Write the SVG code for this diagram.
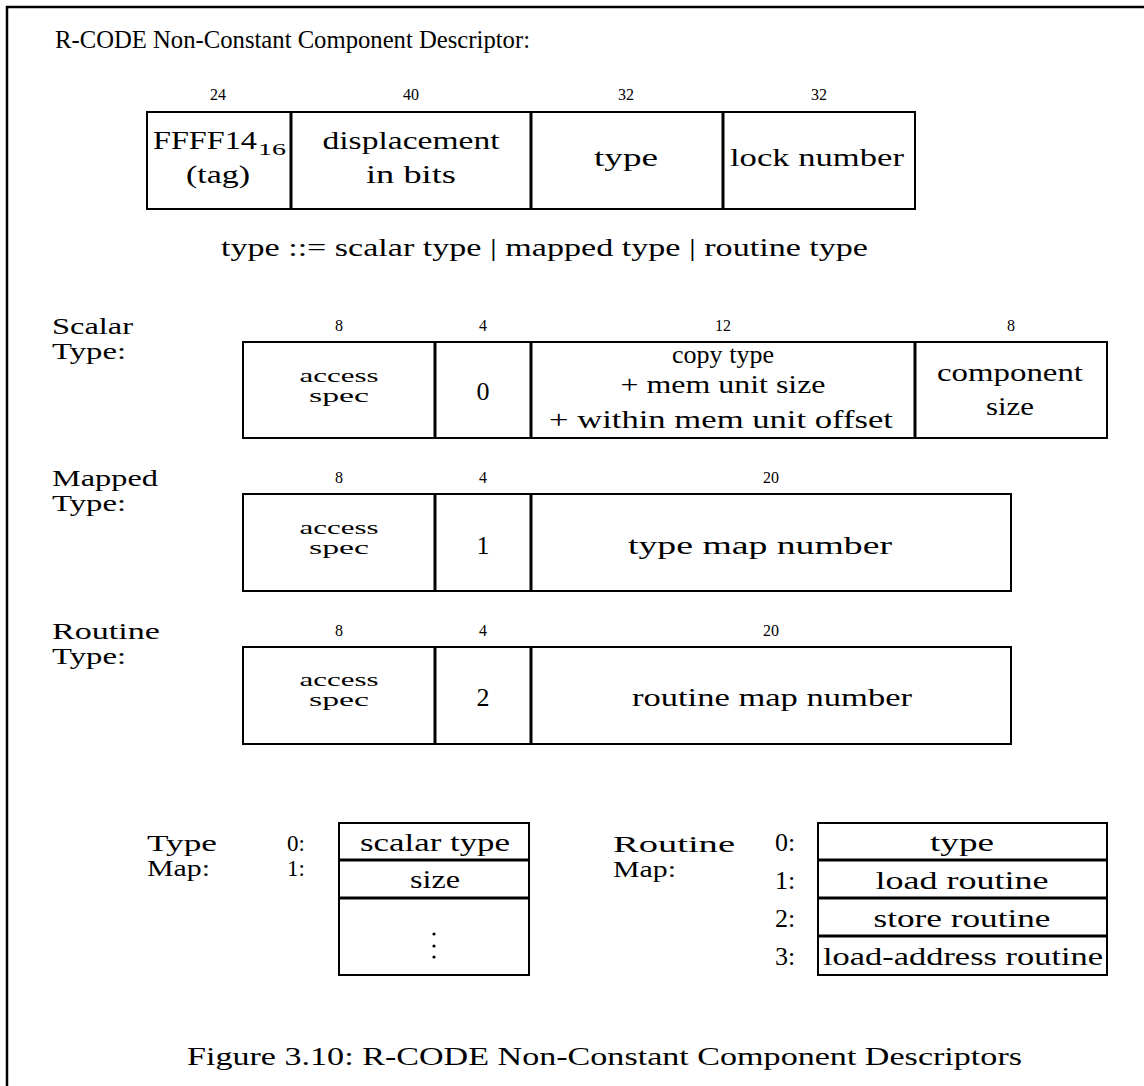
<svg xmlns="http://www.w3.org/2000/svg" width="1144" height="1086" viewBox="0 0 1144 1086">
<style>
text{font-family:"Liberation Serif","DejaVu Serif",serif;fill:#000}
.t{font-size:26px}
.l{font-size:23px}
.m{font-size:19px}
.n{font-size:16px;text-anchor:middle}
.c{text-anchor:middle}
.box{fill:#fff;stroke:#000;stroke-width:2}
.div{stroke:#000;stroke-width:3}
.frame{fill:none;stroke:#000;stroke-width:2.5}
</style>
<rect width="1144" height="1086" fill="#fff"/>
<path class="frame" d="M7,1086 V7 H1144"/>

<text class="t" x="55" y="48" textLength="475" lengthAdjust="spacingAndGlyphs">R-CODE Non-Constant Component Descriptor:</text>

<g id="descriptor">
  <text class="n" x="218" y="100">24</text>
  <text class="n" x="411" y="100">40</text>
  <text class="n" x="626" y="100">32</text>
  <text class="n" x="819" y="100">32</text>
  <rect class="box" x="147" y="112" width="768" height="97"/>
  <line class="div" x1="291" y1="112" x2="291" y2="209"/>
  <line class="div" x1="531" y1="112" x2="531" y2="209"/>
  <line class="div" x1="723" y1="112" x2="723" y2="209"/>
  <text class="t" x="153" y="149" textLength="104" lengthAdjust="spacingAndGlyphs">FFFF14</text>
  <text x="258" y="155" style="font-size:17px" textLength="28" lengthAdjust="spacingAndGlyphs">16</text>
  <text class="t c" x="218" y="183" textLength="64" lengthAdjust="spacingAndGlyphs">(tag)</text>
  <text class="t c" x="411" y="149" textLength="177" lengthAdjust="spacingAndGlyphs">displacement</text>
  <text class="t c" x="411" y="183" textLength="90" lengthAdjust="spacingAndGlyphs">in bits</text>
  <text class="t c" x="626" y="166" textLength="64" lengthAdjust="spacingAndGlyphs">type</text>
  <text class="t c" x="817" y="166" textLength="174" lengthAdjust="spacingAndGlyphs">lock number</text>
</g>

<text class="t" x="221" y="256" textLength="647" lengthAdjust="spacingAndGlyphs">type ::= scalar type | mapped type | routine type</text>

<g id="scalar-type">
  <text class="l" x="52" y="334" textLength="81" lengthAdjust="spacingAndGlyphs">Scalar</text>
  <text class="l" x="52" y="359" textLength="74" lengthAdjust="spacingAndGlyphs">Type:</text>
  <text class="n" x="339" y="331">8</text>
  <text class="n" x="483" y="331">4</text>
  <text class="n" x="723" y="331">12</text>
  <text class="n" x="1011" y="331">8</text>
  <rect class="box" x="243" y="342" width="864" height="96"/>
  <line class="div" x1="435" y1="342" x2="435" y2="438"/>
  <line class="div" x1="531" y1="342" x2="531" y2="438"/>
  <line class="div" x1="915" y1="342" x2="915" y2="438"/>
  <text class="m c" x="339" y="382" textLength="79" lengthAdjust="spacingAndGlyphs">access</text>
  <text class="m c" x="339" y="402" textLength="60" lengthAdjust="spacingAndGlyphs">spec</text>
  <text class="t c" x="483" y="400">0</text>
  <text class="t c" x="723" y="363" textLength="102" lengthAdjust="spacingAndGlyphs">copy type</text>
  <text class="t c" x="723" y="393" textLength="205" lengthAdjust="spacingAndGlyphs">+ mem unit size</text>
  <text class="t c" x="721" y="428" textLength="344" lengthAdjust="spacingAndGlyphs">+ within mem unit offset</text>
  <text class="t c" x="1010" y="381" textLength="146" lengthAdjust="spacingAndGlyphs">component</text>
  <text class="t c" x="1010" y="415" textLength="48" lengthAdjust="spacingAndGlyphs">size</text>
</g>

<g id="mapped-type">
  <text class="l" x="52" y="486" textLength="106" lengthAdjust="spacingAndGlyphs">Mapped</text>
  <text class="l" x="52" y="511" textLength="74" lengthAdjust="spacingAndGlyphs">Type:</text>
  <text class="n" x="339" y="483">8</text>
  <text class="n" x="483" y="483">4</text>
  <text class="n" x="771" y="483">20</text>
  <rect class="box" x="243" y="494" width="768" height="97"/>
  <line class="div" x1="435" y1="494" x2="435" y2="591"/>
  <line class="div" x1="531" y1="494" x2="531" y2="591"/>
  <text class="m c" x="339" y="534" textLength="79" lengthAdjust="spacingAndGlyphs">access</text>
  <text class="m c" x="339" y="554" textLength="60" lengthAdjust="spacingAndGlyphs">spec</text>
  <text class="t c" x="483" y="554">1</text>
  <text class="t c" x="760" y="554" textLength="264" lengthAdjust="spacingAndGlyphs">type map number</text>
</g>

<g id="routine-type">
  <text class="l" x="52" y="639" textLength="108" lengthAdjust="spacingAndGlyphs">Routine</text>
  <text class="l" x="52" y="664" textLength="74" lengthAdjust="spacingAndGlyphs">Type:</text>
  <text class="n" x="339" y="636">8</text>
  <text class="n" x="483" y="636">4</text>
  <text class="n" x="771" y="636">20</text>
  <rect class="box" x="243" y="647" width="768" height="97"/>
  <line class="div" x1="435" y1="647" x2="435" y2="744"/>
  <line class="div" x1="531" y1="647" x2="531" y2="744"/>
  <text class="m c" x="339" y="686" textLength="79" lengthAdjust="spacingAndGlyphs">access</text>
  <text class="m c" x="339" y="706" textLength="60" lengthAdjust="spacingAndGlyphs">spec</text>
  <text class="t c" x="483" y="706">2</text>
  <text class="t c" x="772" y="706" textLength="280" lengthAdjust="spacingAndGlyphs">routine map number</text>
</g>

<g id="type-map">
  <text class="l" x="147" y="851" textLength="70" lengthAdjust="spacingAndGlyphs">Type</text>
  <text class="l" x="147" y="876" textLength="63" lengthAdjust="spacingAndGlyphs">Map:</text>
  <text class="l" x="287" y="851">0:</text>
  <text class="l" x="287" y="876">1:</text>
  <rect class="box" x="339" y="823" width="190" height="152"/>
  <line class="div" x1="339" y1="860" x2="529" y2="860"/>
  <line class="div" x1="339" y1="898" x2="529" y2="898"/>
  <text class="t c" x="435" y="851" textLength="150" lengthAdjust="spacingAndGlyphs">scalar type</text>
  <text class="t c" x="435" y="888" textLength="50" lengthAdjust="spacingAndGlyphs">size</text>
  <circle cx="434" cy="934" r="1.6"/>
  <circle cx="434" cy="946" r="1.6"/>
  <circle cx="434" cy="957" r="1.6"/>
</g>

<g id="routine-map">
  <text class="l" x="613" y="852" textLength="122" lengthAdjust="spacingAndGlyphs">Routine</text>
  <text class="l" x="613" y="877" textLength="63" lengthAdjust="spacingAndGlyphs">Map:</text>
  <text class="t" x="775" y="851">0:</text>
  <text class="t" x="775" y="889">1:</text>
  <text class="t" x="775" y="927">2:</text>
  <text class="t" x="775" y="965">3:</text>
  <rect class="box" x="818" y="823" width="289" height="152"/>
  <line class="div" x1="818" y1="860" x2="1107" y2="860"/>
  <line class="div" x1="818" y1="898" x2="1107" y2="898"/>
  <line class="div" x1="818" y1="936" x2="1107" y2="936"/>
  <text class="t c" x="962" y="851" textLength="64" lengthAdjust="spacingAndGlyphs">type</text>
  <text class="t c" x="962" y="889" textLength="173" lengthAdjust="spacingAndGlyphs">load routine</text>
  <text class="t c" x="962" y="927" textLength="177" lengthAdjust="spacingAndGlyphs">store routine</text>
  <text class="t c" x="963" y="965" textLength="280" lengthAdjust="spacingAndGlyphs">load-address routine</text>
</g>

<text class="t" x="187" y="1065" textLength="835" lengthAdjust="spacingAndGlyphs">Figure 3.10: R-CODE Non-Constant Component Descriptors</text>
</svg>
